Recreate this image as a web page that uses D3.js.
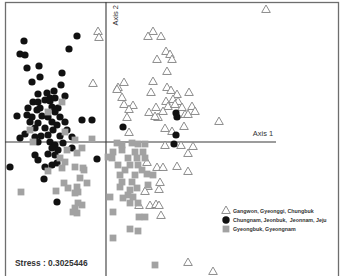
<!DOCTYPE html>
<html>
<head>
<meta charset="utf-8">
<script src="https://cdn.jsdelivr.net/npm/d3@7.9.0/dist/d3.min.js"></script>
<style>
  body { margin: 0; background: #fff; }
  svg { display: block; font-family: "Liberation Sans", Arial, sans-serif; }
</style>
</head>
<body>
<div id="chart"></div>
<script>
// MDS coordinates (Axis 1, Axis 2) per group
const gangwon = [
  [-0.08, 1.10], [-0.07, 1.04], [-0.13, 0.58], [0.47, 1.10], [0.42, 1.05], [0.55, 1.05],
  [0.60, 0.90], [0.64, 0.87], [0.66, 0.82], [0.51, 0.82], [0.61, 0.70], [0.47, 0.60],
  [0.18, 0.59], [0.12, 0.54], [0.11, 0.52], [0.45, 0.49], [0.61, 0.54], [0.65, 0.51],
  [0.71, 0.47], [0.83, 0.49], [0.16, 0.44], [0.18, 0.37], [0.27, 0.36], [0.23, 0.32],
  [0.67, 0.42], [0.72, 0.40], [0.60, 0.40], [0.62, 0.35], [0.69, 0.37], [0.76, 0.34],
  [0.86, 0.35], [0.89, 0.30], [0.50, 0.34], [0.43, 0.29], [0.57, 0.30], [0.52, 0.24],
  [0.21, 0.24], [0.79, 0.27], [0.82, 0.27], [0.49, 0.25], [0.59, 0.13], [0.66, 0.10],
  [0.78, 0.15], [0.23, 0.09], [1.13, 0.20], [1.60, 1.32], [0.59, -0.04], [0.75, -0.04],
  [0.87, -0.05], [0.82, -0.12], [0.51, -0.26], [0.57, -0.26], [0.71, -0.25], [0.82, -0.30],
  [0.41, -0.21], [0.54, -0.41], [0.53, -0.48], [0.42, -0.45], [0.39, -0.50], [0.44, -0.64],
  [0.50, -0.63], [0.53, -0.64], [0.55, -0.74], [0.33, -0.64], [0.82, -1.21], [1.07, -1.30]
];

const chungnam = [
  [-0.29, 1.06], [-0.82, 1.01], [-0.86, 0.88], [-0.81, 0.87], [-0.37, 0.93], [-0.79, 0.74],
  [-0.67, 0.76], [-0.66, 0.65], [-0.44, 0.69], [-0.74, 0.60], [-0.45, 0.57], [-0.68, 0.48],
  [-0.59, 0.49], [-0.52, 0.51], [-0.41, 0.46], [-0.56, 0.44], [-0.73, 0.40], [-0.68, 0.40],
  [-0.61, 0.42], [-0.56, 0.41], [-0.51, 0.44], [-0.78, 0.34], [-0.69, 0.32], [-0.66, 0.34],
  [-0.54, 0.35], [-0.48, 0.34], [-0.51, 0.30], [-0.89, 0.26], [-0.79, 0.27], [-0.74, 0.25],
  [-0.64, 0.26], [-0.58, 0.25], [-0.46, 0.25], [-0.24, 0.22], [-0.14, 0.22], [-0.76, 0.20],
  [-0.68, 0.19], [-0.54, 0.20], [-0.49, 0.17], [-0.41, 0.20], [-0.71, 0.14], [-0.61, 0.14],
  [-0.53, 0.12], [-0.39, 0.12], [-0.81, 0.08], [-0.71, 0.05], [-0.65, 0.06], [-0.58, 0.07],
  [-0.46, 0.06], [-0.34, 0.05], [-0.86, 0.04], [-0.68, 0.00], [-0.56, 0.00], [-0.51, -0.03],
  [-0.43, -0.01], [-0.54, -0.06], [-0.48, -0.08], [-0.34, -0.06], [-0.71, -0.13], [-0.58, -0.12],
  [-0.51, -0.13], [-0.68, -0.18], [-0.09, -0.17], [-0.61, -0.25], [-0.54, -0.23], [-0.49, -0.21],
  [-0.96, -0.25], [-0.62, -0.37], [-0.49, -0.60], [0.17, 0.15], [0.70, 0.29], [0.71, 0.25],
  [0.70, 0.07], [0.68, -0.02]
];

const gyeongbuk = [
  [-0.44, 0.40], [-0.58, 0.30], [-0.41, 0.10], [-0.76, 0.12], [-0.73, 0.00], [-0.31, 0.02],
  [-0.14, 0.03], [-0.39, -0.08], [-0.24, -0.06], [-0.29, -0.11], [-0.46, -0.16], [-0.41, -0.20],
  [-0.31, -0.25], [-0.23, -0.26], [0.02, -0.15], [-0.58, -0.29], [-0.44, -0.26], [-0.22, -0.28],
  [-0.26, -0.36], [-0.19, -0.41], [-0.42, -0.41], [-0.38, -0.46], [-0.29, -0.45], [-0.31, -0.51],
  [-0.28, -0.50], [-0.85, -0.50], [-0.50, -0.49], [-0.28, -0.61], [-0.24, -0.63], [-0.31, -0.66],
  [-0.29, -0.71], [-0.33, -0.70], [0.11, -0.01], [0.16, -0.03], [0.26, -0.01], [0.32, -0.02],
  [0.39, -0.02], [0.07, -0.10], [0.16, -0.08], [0.29, -0.10], [0.37, -0.10], [0.06, -0.16],
  [0.22, -0.16], [0.31, -0.16], [0.39, -0.16], [0.12, -0.23], [0.24, -0.23], [0.32, -0.23],
  [0.19, -0.28], [0.36, -0.28], [0.14, -0.33], [0.29, -0.33], [0.41, -0.32], [0.47, -0.33],
  [0.16, -0.40], [0.26, -0.40], [0.42, -0.43], [0.14, -0.45], [0.24, -0.48], [0.31, -0.46],
  [0.22, -0.53], [0.27, -0.55], [0.17, -0.56], [0.24, -0.61], [0.32, -0.61], [0.04, -0.55],
  [0.07, -0.70], [0.33, -0.75], [0.39, -0.75], [0.24, -0.87], [0.32, -0.89], [0.07, -0.96],
  [0.49, -1.23]
];

const legendLabels = [
  'Gangwon, Gyeonggi, Chungbuk',
  'Chungnam, Jeonbuk,  Jeonnam, Jeju',
  'Gyeongbuk, Gyeongnam'
];
const stress = '0.3025446';

const width = 343;
const height = 276;

const svg = d3.select('#chart')
  .append('svg')
  .attr('width', width)
  .attr('height', height);

const x = d3.scaleLinear().domain([-1, 2.32]).range([6, 338]);
const y = d3.scaleLinear().domain([-1.34, 1.4]).range([276, 2]);

// frame
svg.append('rect')
  .attr('x', 5.5).attr('y', 2.5)
  .attr('width', 333).attr('height', 290)
  .attr('fill', 'none')
  .attr('stroke', '#6e6e6e')
  .attr('stroke-width', 1.3);

// axis lines
svg.append('line')
  .attr('x1', 5).attr('x2', 276)
  .attr('y1', y(0)).attr('y2', y(0))
  .attr('stroke', '#3a3a3a').attr('stroke-width', 1.1);

svg.append('line')
  .attr('x1', x(0)).attr('x2', x(0))
  .attr('y1', 2).attr('y2', height)
  .attr('stroke', '#3a3a3a').attr('stroke-width', 1.1);

svg.append('text')
  .attr('x', 263).attr('y', y(0) - 6)
  .attr('text-anchor', 'middle')
  .attr('font-size', 7.5)
  .attr('fill', '#333')
  .text('Axis 1');

svg.append('text')
  .attr('transform', `translate(${x(0) + 12}, 5) rotate(-90)`)
  .attr('text-anchor', 'end')
  .attr('font-size', 7.5)
  .attr('fill', '#333')
  .text('Axis 2');

const tri = d3.symbol().type(d3.symbolTriangle).size(32);
const sq = d3.symbol().type(d3.symbolSquare).size(46);

svg.append('g')
  .selectAll('path')
  .data(gangwon)
  .join('path')
  .attr('d', tri)
  .attr('transform', (d) => `translate(${x(d[0])}, ${y(d[1])})`)
  .attr('fill', '#fff')
  .attr('stroke', '#808080')
  .attr('stroke-width', 0.9);

svg.append('g')
  .selectAll('circle')
  .data(chungnam)
  .join('circle')
  .attr('cx', (d) => x(d[0]))
  .attr('cy', (d) => y(d[1]))
  .attr('r', 3.6)
  .attr('fill', '#111');

svg.append('g')
  .selectAll('path')
  .data(gyeongbuk)
  .join('path')
  .attr('d', sq)
  .attr('transform', (d) => `translate(${x(d[0])}, ${y(d[1])})`)
  .attr('fill', '#a2a2a2');

// legend
const legend = svg.append('g').attr('transform', 'translate(226, 211)');

legend.append('path')
  .attr('d', tri)
  .attr('fill', '#fff')
  .attr('stroke', '#808080')
  .attr('stroke-width', 0.9);

legend.append('circle')
  .attr('cy', 9)
  .attr('r', 3.7)
  .attr('fill', '#111');

legend.append('path')
  .attr('d', sq)
  .attr('transform', 'translate(0, 18)')
  .attr('fill', '#a2a2a2');

legend.selectAll('text')
  .data(legendLabels)
  .join('text')
  .attr('x', 7)
  .attr('y', (d, i) => i * 9 + 2.2)
  .attr('font-size', 5.3)
  .attr('font-weight', 'bold')
  .attr('fill', '#333')
  .attr('xml:space', 'preserve')
  .text((d) => d);

svg.append('text')
  .attr('x', 15).attr('y', 266)
  .attr('font-size', 8.4)
  .attr('font-weight', 'bold')
  .attr('fill', '#333')
  .text('Stress : ' + stress);
</script>
</body>
</html>
